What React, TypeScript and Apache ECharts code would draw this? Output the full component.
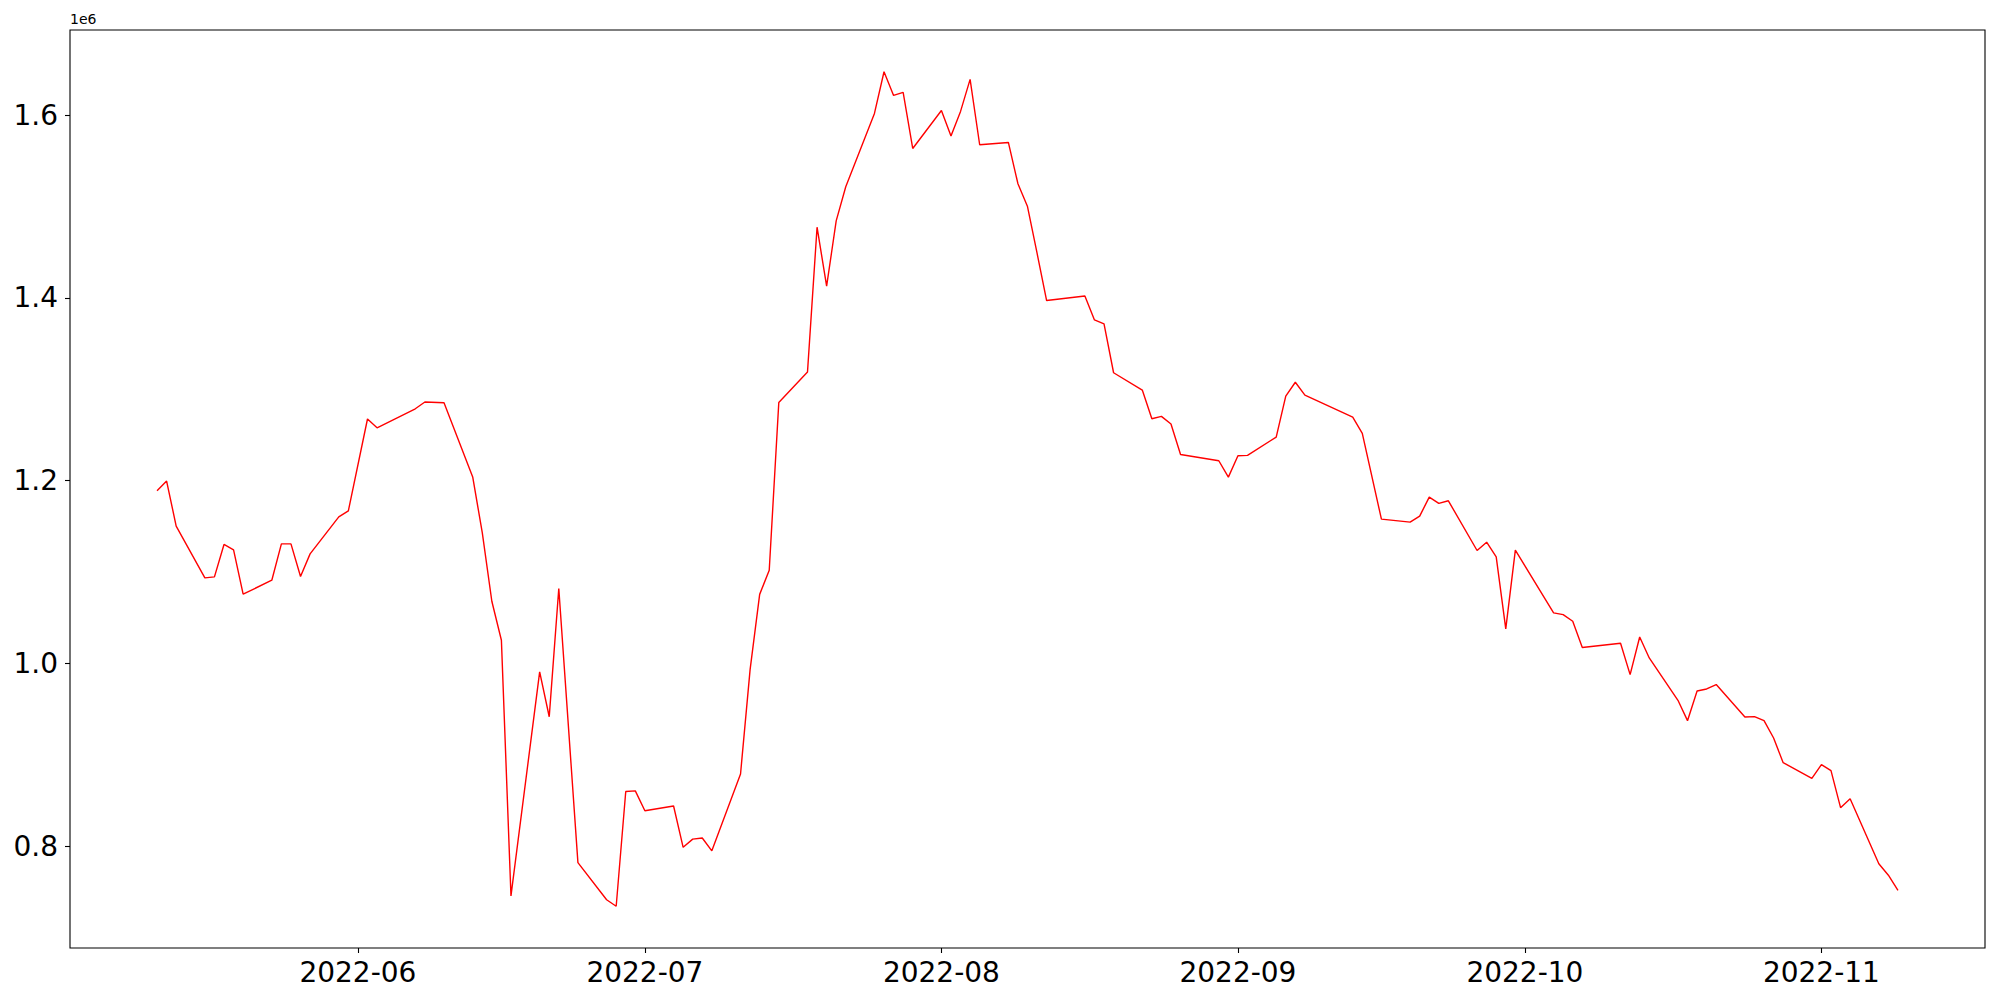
import React, { useEffect, useRef } from "react";
import * as echarts from "echarts";

const dates: string[] = [
  "2022-05-11", "2022-05-12", "2022-05-13", "2022-05-16", "2022-05-17", "2022-05-18", "2022-05-19", "2022-05-20",
  "2022-05-23", "2022-05-24", "2022-05-25", "2022-05-26", "2022-05-27", "2022-05-30", "2022-05-31",
  "2022-06-02", "2022-06-03", "2022-06-07", "2022-06-08", "2022-06-10", "2022-06-13", "2022-06-14", "2022-06-15",
  "2022-06-16", "2022-06-17", "2022-06-20", "2022-06-21", "2022-06-22", "2022-06-24", "2022-06-27", "2022-06-28",
  "2022-06-29", "2022-06-30", "2022-07-01", "2022-07-04", "2022-07-05", "2022-07-06", "2022-07-07", "2022-07-08",
  "2022-07-11", "2022-07-12", "2022-07-13", "2022-07-14", "2022-07-15", "2022-07-18", "2022-07-19", "2022-07-20",
  "2022-07-21", "2022-07-22", "2022-07-25", "2022-07-26", "2022-07-27", "2022-07-28", "2022-07-29",
  "2022-08-01", "2022-08-02", "2022-08-03", "2022-08-04", "2022-08-05", "2022-08-08", "2022-08-09", "2022-08-10",
  "2022-08-11", "2022-08-12", "2022-08-16", "2022-08-17", "2022-08-18", "2022-08-19", "2022-08-22", "2022-08-23",
  "2022-08-24", "2022-08-25", "2022-08-26", "2022-08-30", "2022-08-31",
  "2022-09-01", "2022-09-02", "2022-09-05", "2022-09-06", "2022-09-07", "2022-09-08", "2022-09-13", "2022-09-14",
  "2022-09-16", "2022-09-19", "2022-09-20", "2022-09-21", "2022-09-22", "2022-09-23", "2022-09-26", "2022-09-27",
  "2022-09-28", "2022-09-29", "2022-09-30",
  "2022-10-04", "2022-10-05", "2022-10-06", "2022-10-07", "2022-10-11", "2022-10-12", "2022-10-13", "2022-10-14",
  "2022-10-17", "2022-10-18", "2022-10-19", "2022-10-20", "2022-10-21", "2022-10-24", "2022-10-25", "2022-10-26",
  "2022-10-27", "2022-10-28", "2022-10-31",
  "2022-11-01", "2022-11-02", "2022-11-03", "2022-11-04", "2022-11-07", "2022-11-08", "2022-11-09",
];

const values: number[] = [
  1188800, 1199500, 1150200, 1093500, 1094600, 1130100, 1124200, 1075700,
  1091000, 1130800, 1130800, 1095100, 1119800, 1160300, 1166900,
  1267400, 1257800, 1278600, 1286000, 1285200, 1204000, 1143000, 1068000,
  1025300, 745500, 990600, 941600, 1081900, 782000, 741300, 734200,
  859800, 860500, 838700, 843900, 798700, 807700, 808900, 794900,
  879000, 993200, 1075500, 1101900, 1285500, 1318800, 1477300, 1412700,
  1484200, 1521500, 1601800, 1647400, 1621500, 1624800, 1563400,
  1605000, 1577000, 1604000, 1639000, 1567500, 1570000, 1524800, 1499900,
  1448800, 1397000, 1402000, 1375800, 1371400, 1318000, 1299100, 1267700,
  1270300, 1261900, 1228500, 1221700, 1203800,
  1227200, 1227600, 1247600, 1292400, 1307600, 1293500, 1269400, 1251700,
  1157800, 1154500, 1161100, 1181900, 1175000, 1177900, 1123500, 1132600,
  1116500, 1037700, 1123900,
  1055200, 1053400, 1046100, 1017300, 1022000, 987700, 1028900, 1005900,
  959600, 937300, 969800, 972000, 976800, 941300, 941700, 937300,
  918300, 891300, 874200,
  889200, 882600, 842100, 851900, 780700, 768200, 751500,
];

const yTickValues: number[] = [800000, 1000000, 1200000, 1400000, 1600000];
const xTickDates: string[] = ["2022-06-01", "2022-07-01", "2022-08-01", "2022-09-01", "2022-10-01", "2022-11-01"];

const toTs = (s: string) => {
  const [y, m, d] = s.split("-").map(Number);
  return Date.UTC(y, m - 1, d);
};

export default function App() {
  const ref = useRef<HTMLDivElement>(null);
  useEffect(() => {
    if (!ref.current) return;
    const chart = echarts.init(ref.current, undefined, { renderer: "svg" });
    const xs = dates.map(toTs);
    const data = xs.map((t, i) => [t, values[i]]);
    const xMinD = Math.min(...xs), xMaxD = Math.max(...xs);
    const xPad = (xMaxD - xMinD) * 0.05;
    const yMinD = Math.min(...values), yMaxD = Math.max(...values);
    const yPad = (yMaxD - yMinD) * 0.05;
    const font = "DejaVu Sans";
    const xTicks = xTickDates.map(toTs);
    chart.setOption({
      animation: false,
      grid: {
        left: 70, right: 15, top: 30, bottom: 52,
        show: true, borderColor: "#000", borderWidth: 1.1, backgroundColor: "transparent",
      },
      xAxis: {
        type: "value",
        min: xMinD - xPad,
        max: xMaxD + xPad,
        splitLine: { show: false },
        axisLine: { show: false },
        axisTick: {
          show: true, length: 5, lineStyle: { color: "#000", width: 1.1 },
          customValues: xTicks,
        },
        axisLabel: {
          customValues: xTicks,
          fontFamily: font, fontSize: 28, color: "#000", margin: 10,
          formatter: (v: number) => {
            const d = new Date(v);
            return d.getUTCFullYear() + "-" + String(d.getUTCMonth() + 1).padStart(2, "0");
          },
        },
      },
      yAxis: {
        type: "value",
        min: yMinD - yPad,
        max: yMaxD + yPad,
        splitLine: { show: false },
        axisLine: { show: false },
        axisTick: {
          show: true, length: 5, lineStyle: { color: "#000", width: 1.1 },
          customValues: yTickValues,
        },
        axisLabel: {
          customValues: yTickValues,
          fontFamily: font, fontSize: 28, color: "#000", margin: 12,
          formatter: (v: number) => (v / 1e6).toFixed(1),
        },
      },
      graphic: [
        {
          type: "text", left: 70, top: 12,
          style: { text: "1e6", fontFamily: font, fontSize: 14, fill: "#000" },
        },
      ],
      series: [
        {
          type: "line",
          data,
          showSymbol: false,
          symbol: "none",
          lineStyle: { color: "#ff0000", width: 1.4 },
          z: 3,
        },
      ],
    });
    return () => chart.dispose();
  }, []);
  return (
    <div
      ref={ref}
      style={{ position: "fixed", left: 0, top: 0, width: 2000, height: 1000, background: "#fff" }}
    />
  );
}
